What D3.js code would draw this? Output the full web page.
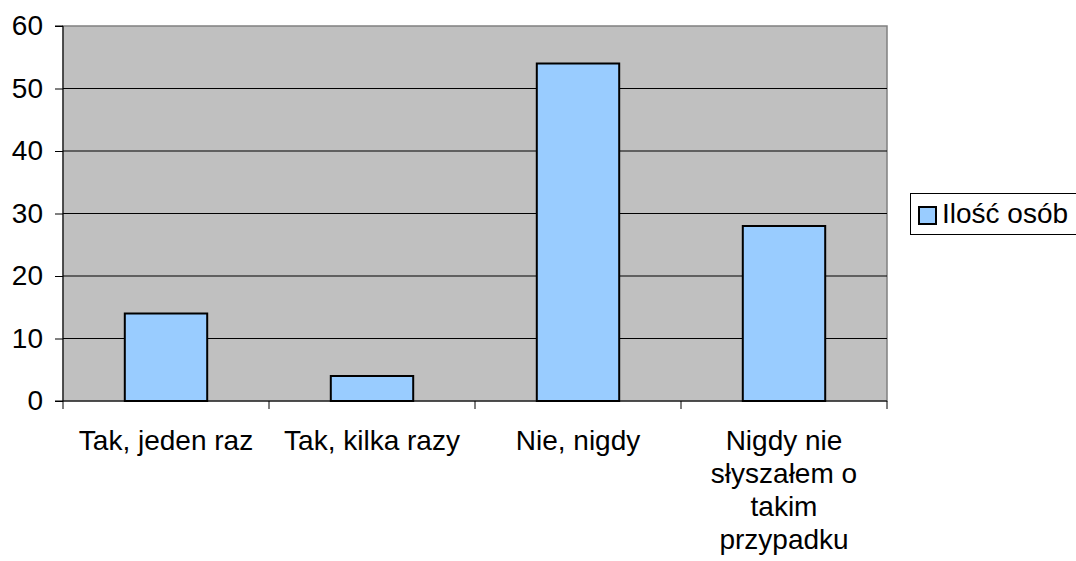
<!DOCTYPE html>
<html lang="pl">
<head>
<meta charset="utf-8">
<style>
  body { margin: 0; background: #fff; }
  svg { display: block; font-family: "Liberation Sans", Arial, sans-serif; }
</style>
<script src="https://cdnjs.cloudflare.com/ajax/libs/d3/7.8.5/d3.min.js"></script>
</head>
<body>
<div id="chart"></div>
<script>
var categories = [
  ["Tak, jeden raz"],
  ["Tak, kilka razy"],
  ["Nie, nigdy"],
  ["Nigdy nie", "słyszałem o", "takim", "przypadku"]
];
var values = [14, 4, 54, 28];
var yTicks = [0, 10, 20, 30, 40, 50, 60];
var seriesName = "Ilość osób";

var w = 1076, h = 561;
var pLeft = 63, pTop = 26, pRight = 887, pBottom = 401;
var fontSize = 28;

var svg = d3.select("#chart").append("svg")
  .attr("width", w)
  .attr("height", h);

var x = d3.scaleBand()
  .domain(d3.range(categories.length))
  .range([pLeft, pRight])
  .paddingInner(0.6)
  .paddingOuter(0.3);

var y = d3.scaleLinear()
  .domain([0, 60])
  .range([pBottom, pTop]);

// plot background
svg.append("rect")
  .attr("x", pLeft).attr("y", pTop)
  .attr("width", pRight - pLeft).attr("height", pBottom - pTop)
  .attr("fill", "#c0c0c0")
  .attr("stroke", "#808080")
  .attr("stroke-width", 1.5);

// gridlines
svg.append("g").selectAll("line")
  .data(yTicks.filter(function(d) { return d > 0 && d < 60; }))
  .enter().append("line")
  .attr("x1", pLeft).attr("x2", pRight)
  .attr("y1", function(d) { return y(d); })
  .attr("y2", function(d) { return y(d); })
  .attr("stroke", "#000")
  .attr("stroke-width", 1);

// bars
svg.append("g").selectAll("rect")
  .data(values)
  .enter().append("rect")
  .attr("x", function(d, i) { return x(i); })
  .attr("y", function(d) { return y(d); })
  .attr("width", x.bandwidth())
  .attr("height", function(d) { return y(0) - y(d); })
  .attr("fill", "#99ccff")
  .attr("stroke", "#000")
  .attr("stroke-width", 2);

// y axis
var yAxis = svg.append("g")
  .attr("transform", "translate(" + pLeft + ",0)")
  .call(d3.axisLeft(y).tickValues(yTicks).tickSize(8).tickPadding(12));
yAxis.selectAll("text")
  .attr("font-size", fontSize)
  .attr("fill", "#000")
  .attr("font-family", "Liberation Sans, Arial, sans-serif");
yAxis.selectAll("line").attr("stroke", "#000");
yAxis.select(".domain").attr("stroke", "#000").attr("d", "M-8," + pTop + "H0V" + pBottom);

// x axis line and ticks between categories
var bounds = d3.range(categories.length + 1).map(function(i) {
  return pLeft + i * (pRight - pLeft) / categories.length;
});
svg.append("line")
  .attr("x1", pLeft - 8).attr("x2", pRight)
  .attr("y1", pBottom).attr("y2", pBottom)
  .attr("stroke", "#000").attr("stroke-width", 1);
svg.append("g").selectAll("line")
  .data(bounds)
  .enter().append("line")
  .attr("x1", function(d) { return d; })
  .attr("x2", function(d) { return d; })
  .attr("y1", pBottom).attr("y2", pBottom + 8)
  .attr("stroke", "#000");

// category labels
var labels = svg.append("g").selectAll("text")
  .data(categories)
  .enter().append("text")
  .attr("x", function(d, i) { return x(i) + x.bandwidth() / 2; })
  .attr("y", 450)
  .attr("text-anchor", "middle")
  .attr("font-size", fontSize)
  .attr("fill", "#000");
labels.selectAll("tspan")
  .data(function(d) { return d; })
  .enter().append("tspan")
  .attr("x", function() { return d3.select(this.parentNode).attr("x"); })
  .attr("dy", function(d, i) { return i === 0 ? 0 : 33; })
  .text(function(d) { return d; });

// legend
var lg = svg.append("g");
lg.append("rect")
  .attr("x", 910.5).attr("y", 193.5)
  .attr("width", 180).attr("height", 41)
  .attr("fill", "#fff").attr("stroke", "#000");
lg.append("rect")
  .attr("x", 919).attr("y", 207)
  .attr("width", 17).attr("height", 17)
  .attr("fill", "#99ccff").attr("stroke", "#000").attr("stroke-width", 2);
lg.append("text")
  .attr("x", 942).attr("y", 223)
  .attr("font-size", fontSize)
  .attr("fill", "#000")
  .text(seriesName);
</script>
</body>
</html>
